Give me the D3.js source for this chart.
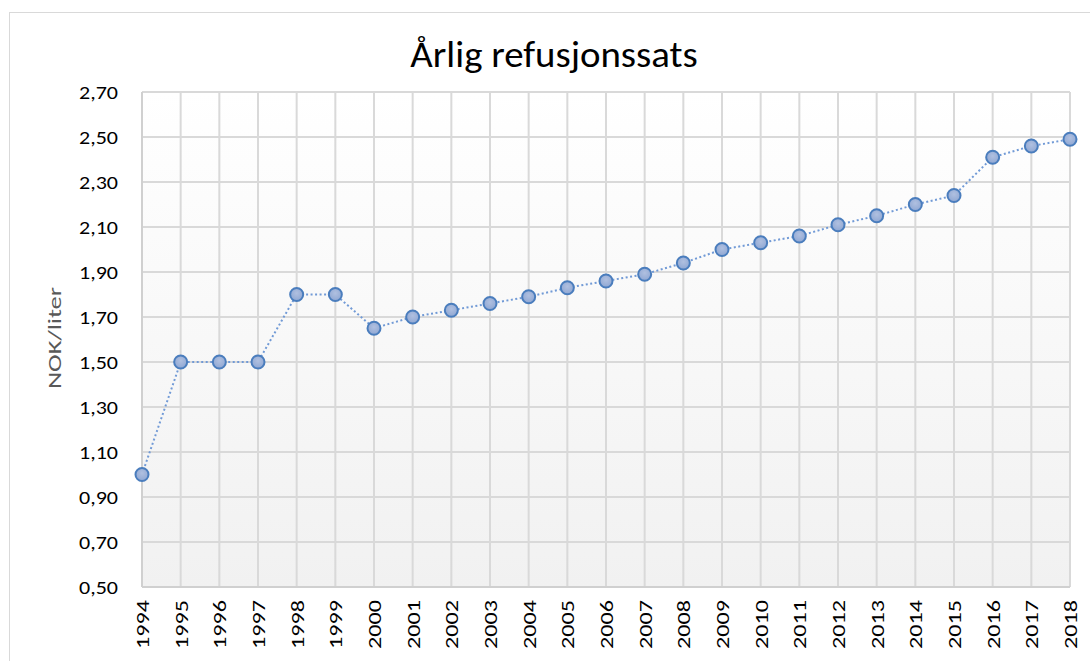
<!DOCTYPE html>
<html><head><meta charset="utf-8">
<script src="https://cdn.jsdelivr.net/npm/d3@7"></script>
<style>body{margin:0;background:#fff}svg{display:block}text{font-family:Carlito,Calibri,"Open Sans","Noto Sans",sans-serif}</style>
</head><body>
<script>
const years = ["1994","1995","1996","1997","1998","1999","2000","2001","2002","2003","2004","2005","2006","2007","2008","2009","2010","2011","2012","2013","2014","2015","2016","2017","2018"];
const values = [1.00,1.50,1.50,1.50,1.80,1.80,1.65,1.70,1.73,1.76,1.79,1.83,1.86,1.89,1.94,2.00,2.03,2.06,2.11,2.15,2.20,2.24,2.41,2.46,2.49];
const yTicks = [0.5,0.7,0.9,1.1,1.3,1.5,1.7,1.9,2.1,2.3,2.5,2.7];
const title = "Årlig refusjonssats";
const yLabel = "NOK/liter";

const W=1090,H=661;
const m={l:142,t:92,r:1070,b:587};
const svg=d3.select("body").append("svg").attr("width",W).attr("height",H);
const defs=svg.append("defs");
const g1=defs.append("linearGradient").attr("id","bg").attr("x1",0).attr("y1",0).attr("x2",0).attr("y2",1);
g1.append("stop").attr("offset","0%").attr("stop-color","#ffffff");
g1.append("stop").attr("offset","100%").attr("stop-color","#f1f1f1");
const g2=defs.append("radialGradient").attr("id","mk").attr("cx","50%").attr("cy","40%").attr("r","60%");
g2.append("stop").attr("offset","0%").attr("stop-color","#b0c0e0");
g2.append("stop").attr("offset","100%").attr("stop-color","#8fa7d3");

svg.append("rect").attr("x",9.5).attr("y",12.5).attr("width",W).attr("height",H).attr("fill","#fff").attr("stroke","#d9d9d9").attr("stroke-width",1);

const x=d3.scalePoint().domain(years).range([m.l,m.r]);
const y=d3.scaleLinear().domain([0.5,2.7]).range([m.b,m.t]);

svg.append("rect").attr("x",m.l).attr("y",m.t).attr("width",m.r-m.l).attr("height",m.b-m.t).attr("fill","url(#bg)");

// grid
svg.append("g").selectAll("line").data(yTicks).join("line")
 .attr("x1",m.l).attr("x2",m.r).attr("y1",d=>y(d)).attr("y2",d=>y(d))
 .attr("stroke","#d9d9d9").attr("stroke-width",2);
svg.append("g").selectAll("line").data(years).join("line")
 .attr("x1",d=>x(d)).attr("x2",d=>x(d)).attr("y1",m.t).attr("y2",m.b)
 .attr("stroke","#d9d9d9").attr("stroke-width",2);
svg.append("line").attr("x1",m.l).attr("x2",m.l).attr("y1",m.t).attr("y2",m.b).attr("stroke","#d0d0d0").attr("stroke-width",2);
svg.append("line").attr("x1",m.l).attr("x2",m.r).attr("y1",m.b).attr("y2",m.b).attr("stroke","#d0d0d0").attr("stroke-width",2);

// y tick labels (axis for positions, text widened to match reference)
const ya=d3.axisLeft(y).tickValues(yTicks).tickSize(0).tickPadding(0).tickFormat(d=>d3.format(".2f")(d).replace(".",","));
const yg=svg.append("g").attr("transform",`translate(${m.l},0)`).call(ya);
yg.select(".domain").remove();
yg.selectAll(".tick text").attr("font-size",19).attr("fill","#000").attr("font-family",null)
 .attr("x",null).attr("dy","0.34em").attr("text-anchor","end")
 .attr("transform","translate(-24,0) scale(1.16,1)");

// x tick labels
const xa=d3.axisBottom(x).tickSize(0).tickPadding(0);
const xg=svg.append("g").attr("transform",`translate(0,${m.b})`).call(xa);
xg.select(".domain").remove();
xg.selectAll(".tick text").attr("font-size",19).attr("fill","#000").attr("font-family",null)
 .attr("x",0).attr("y",0).attr("dy","0.34em").attr("text-anchor","end")
 .attr("transform","translate(0,13) rotate(-90) scale(1.27,1)");
xg.attr("font-family",null); yg.attr("font-family",null);

// line
svg.append("path").datum(values).attr("fill","none").attr("stroke","#719ad6").attr("stroke-width",2)
 .attr("stroke-dasharray","2,2.5")
 .attr("d",d3.line().x((d,i)=>x(years[i])).y(d=>y(d)));
svg.append("g").selectAll("circle").data(values).join("circle")
 .attr("cx",(d,i)=>x(years[i])).attr("cy",d=>y(d)).attr("r",6.5)
 .attr("fill","url(#mk)").attr("stroke","#4a7dbd").attr("stroke-width",2);

svg.append("text").attr("transform","translate(554,67) scale(1.05,1)").attr("text-anchor","middle").attr("font-size",37).attr("fill","#000").text(title);
svg.append("text").attr("transform","translate(61,338) rotate(-90) scale(1.4,1)").attr("text-anchor","middle").attr("font-size",19).attr("fill","#595959").text(yLabel);
</script>
</body></html>
